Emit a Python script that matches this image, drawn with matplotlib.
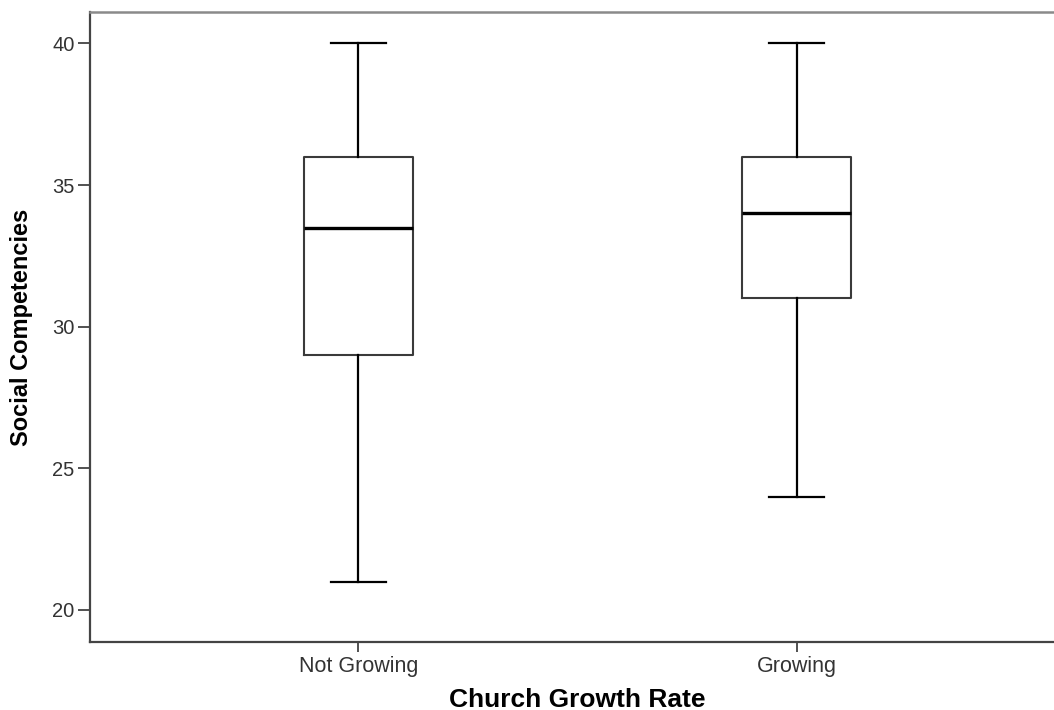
import matplotlib.pyplot as plt

# Data
groups = ['Not Growing', 'Growing']
whisker_low = [21, 24]
q1 = [29, 31]
medians = [33.5, 34]
q3 = [36, 36]
whisker_high = [40, 40]
y_ticks = [20, 25, 30, 35, 40]

stats = []
for name, lo, a, m, b, hi in zip(groups, whisker_low, q1, medians, q3, whisker_high):
    stats.append({'label': name, 'whislo': lo, 'q1': a, 'med': m, 'q3': b, 'whishi': hi, 'fliers': []})

plt.rcParams['font.family'] = ['Liberation Sans', 'DejaVu Sans']

fig = plt.figure(figsize=(10.54, 7.1), dpi=100)
ax = fig.add_axes([0.0854, 0.0958, 0.925, 0.8873])

ax.bxp(stats, positions=[1, 2], widths=0.25, capwidths=0.125, showfliers=False,
       boxprops=dict(color='#3a3a3a', linewidth=1.5),
       medianprops=dict(color='black', linewidth=2.4),
       whiskerprops=dict(color='black', linewidth=1.6),
       capprops=dict(color='black', linewidth=1.6))

ax.set_xlim(0.388, 2.612)
ax.set_ylim(18.87, 41.11)
ax.set_yticks(y_ticks)
ax.set_xticks([1, 2])
ax.set_xticklabels(groups)

# spines like the SPSS chart
ax.spines['right'].set_visible(False)
ax.spines['top'].set_color('#8a8a8a')
ax.spines['top'].set_linewidth(1.8)
for s in ['left', 'bottom']:
    ax.spines[s].set_color('#444444')
    ax.spines[s].set_linewidth(1.6)

ax.tick_params(axis='y', length=9, width=1.2, color='#333333', labelsize=14.5, labelcolor='#333333', pad=2)
ax.tick_params(axis='x', length=7, width=1.2, color='#333333', labelsize=15.5, labelcolor='#333333', pad=3)

ax.set_xlabel('Church Growth Rate', fontsize=19, fontweight='bold', labelpad=8)
ax.set_ylabel('Social Competencies', fontsize=17, fontweight='bold',
              family=['Liberation Sans Narrow', 'Liberation Sans'], labelpad=14)

plt.savefig('out.png', dpi=100)
